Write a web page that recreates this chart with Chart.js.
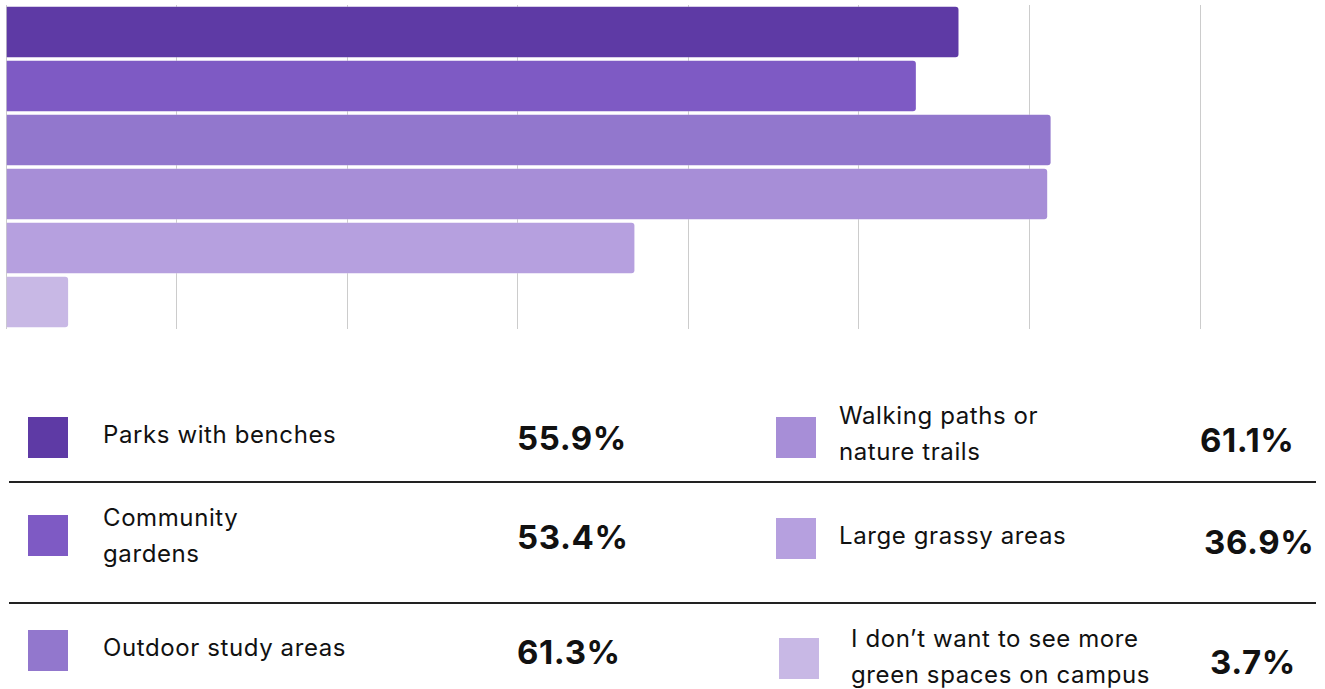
<!DOCTYPE html>
<html>
<head>
<meta charset="utf-8">
<script src="https://cdn.jsdelivr.net/npm/chart.js@4/dist/chart.umd.min.js"></script>
<style>
  html, body { margin: 0; padding: 0; background: #fff; width: 1325px; height: 689px; overflow: hidden; }
  #wrap { position: relative; width: 1325px; height: 689px; font-family: Inter, "Noto Sans", sans-serif; color: #111; }
  #chartBox { position: absolute; left: 0; top: 0; width: 1325px; height: 335px; }
  .sw { position: absolute; width: 40px; height: 41px; }
  .lbl { position: absolute; font-size: 24px; letter-spacing: 0.6px; line-height: 36px; font-weight: 400; white-space: nowrap; }
  .val { position: absolute; font-size: 33px; letter-spacing: 0.6px; line-height: 40px; font-weight: 700; white-space: nowrap; }
  .sep { position: absolute; left: 9px; width: 1307px; height: 2px; background: #222; }
</style>
</head>
<body>
<div id="wrap">
  <div id="chartBox"><canvas id="c"></canvas></div>
</div>
<script>
// ---- data ----
const categories = [
  "Parks with benches",
  "Community gardens",
  "Outdoor study areas",
  "Walking paths or nature trails",
  "Large grassy areas",
  "I don\u2019t want to see more green spaces on campus"
];
const legendLines = [
  ["Parks with benches"],
  ["Community", "gardens"],
  ["Outdoor study areas"],
  ["Walking paths or", "nature trails"],
  ["Large grassy areas"],
  ["I don\u2019t want to see more", "green spaces on campus"]
];
const values = [55.9, 53.4, 61.3, 61.1, 36.9, 3.7];
const valueLabels = ["55.9%", "53.4%", "61.3%", "61.1%", "36.9%", "3.7%"];
const colors = ["#5E3AA5", "#7E5AC4", "#9277CD", "#A78ED7", "#B6A0DF", "#C8B8E5"];
const axisMax = 70;
const axisStep = 10;

// ---- legend layout (positions only) ----
const legendLayout = [
  { swX: 28,  swY: 417, lx: 103, ly: 417, vx: 517,  vy: 418 },
  { swX: 28,  swY: 515, lx: 103, ly: 500, vx: 517,  vy: 517 },
  { swX: 28,  swY: 630, lx: 103, ly: 630, vx: 517,  vy: 632 },
  { swX: 776, swY: 417, lx: 839, ly: 398, vx: 1200, vy: 420 },
  { swX: 776, swY: 518, lx: 839, ly: 518, vx: 1204, vy: 522 },
  { swX: 779, swY: 638, lx: 851, ly: 621, vx: 1210, vy: 642 }
];
const separatorYs = [481, 602];

const wrap = document.getElementById('wrap');
separatorYs.forEach(y => {
  const d = document.createElement('div');
  d.className = 'sep'; d.style.top = y + 'px';
  wrap.appendChild(d);
});
legendLayout.forEach((p, i) => {
  const sw = document.createElement('div');
  sw.className = 'sw'; sw.style.left = p.swX + 'px'; sw.style.top = p.swY + 'px';
  sw.style.background = colors[i];
  wrap.appendChild(sw);
  const l = document.createElement('div');
  l.className = 'lbl'; l.style.left = p.lx + 'px'; l.style.top = p.ly + 'px';
  l.innerHTML = legendLines[i].join('<br>');
  wrap.appendChild(l);
  const v = document.createElement('div');
  v.className = 'val'; v.style.left = p.vx + 'px'; v.style.top = p.vy + 'px';
  v.textContent = valueLabels[i];
  wrap.appendChild(v);
});

new Chart(document.getElementById('c'), {
  type: 'bar',
  data: {
    labels: categories,
    datasets: [{
      data: values,
      backgroundColor: colors,
      borderColor: 'rgba(255,255,255,0.3)',
      borderWidth: 1,
      borderRadius: 4,
      borderSkipped: 'start',
      barPercentage: 0.97,
      categoryPercentage: 1.0
    }]
  },
  options: {
    indexAxis: 'y',
    responsive: true,
    maintainAspectRatio: false,
    animation: false,
    layout: { padding: { left: 6, top: 5, right: 125, bottom: 6 } },
    plugins: { legend: { display: false }, tooltip: { enabled: false } },
    scales: {
      x: {
        min: 0, max: axisMax,
        ticks: { display: false, stepSize: axisStep },
        grid: { color: '#cccccc', lineWidth: 1, drawTicks: false },
        border: { display: false }
      },
      y: { display: false }
    }
  }
});
</script>
</body>
</html>
